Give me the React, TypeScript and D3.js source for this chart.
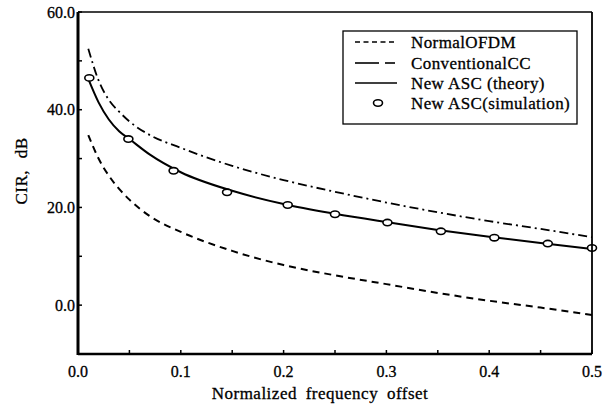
import React from "react";
import * as d3 from "d3";

// values
const offsets = [0.01, 0.02, 0.03, 0.04, 0.05, 0.07, 0.1, 0.15, 0.2, 0.25, 0.3, 0.35, 0.4, 0.45, 0.5];
const normalOfdm = [34.8, 30.0, 26.5, 23.8, 21.6, 18.2, 15.0, 11.1, 8.2, 6.1, 4.3, 2.5, 0.9, -0.5, -2.0];
const conventionalCC = [52.5, 46.0, 42.0, 39.6, 37.6, 34.8, 32.2, 28.5, 25.6, 23.2, 21.0, 19.0, 17.2, 15.6, 13.9];
const ascTheory = [46.3, 41.5, 38.0, 35.6, 34.0, 30.8, 27.2, 23.4, 20.7, 18.7, 17.0, 15.4, 14.0, 12.7, 11.5];

const simOffsets = [0.011, 0.049, 0.093, 0.145, 0.204, 0.25, 0.301, 0.353, 0.405, 0.457, 0.5];
const ascSimulation = [46.5, 34.0, 27.5, 23.1, 20.5, 18.6, 16.9, 15.1, 13.8, 12.6, 11.7];

const xTicks = [0, 0.05, 0.1, 0.15, 0.2, 0.25, 0.3, 0.35, 0.4, 0.45, 0.5];
const xLabels = [0, 0.1, 0.2, 0.3, 0.4, 0.5];
const yTicks = [-10, 0, 10, 20, 30, 40, 50, 60];
const yLabels = [0, 20, 40, 60];

const legendItems = ["NormalOFDM", "ConventionalCC", "New ASC (theory)", "New ASC(simulation)"];

const font = "Liberation Serif, serif";

const App = () => {
  const width = 613;
  const height = 410;
  const left = 78;
  const right = 592;
  const top = 12;
  const bottom = 354;

  const x = d3.scaleLinear().domain([0, 0.5]).range([left, right]);
  const y = d3.scaleLinear().domain([-10, 60]).range([bottom, top]);

  const line = d3
    .line<number>()
    .x((_, i) => x(offsets[i]))
    .y((d) => y(d))
    .curve(d3.curveMonotoneX);

  const lx1 = 355;
  const lx2 = 397;
  const rowY = [42, 63, 83, 103];

  return (
    <svg
      width={width}
      height={height}
      style={{ position: "absolute", left: 0, top: 0, background: "#fff", fontFamily: font }}
    >
      <rect width={width} height={height} fill="#fff" />

      {/* curves */}
      <path d={line(normalOfdm) ?? ""} fill="none" stroke="#000" strokeWidth={2} strokeDasharray="7 5" />
      <path d={line(conventionalCC) ?? ""} fill="none" stroke="#000" strokeWidth={1.8} strokeDasharray="9 4 2 4" />
      <path d={line(ascTheory) ?? ""} fill="none" stroke="#000" strokeWidth={2} />
      {simOffsets.map((o, i) => (
        <ellipse
          key={i}
          cx={x(o)}
          cy={y(ascSimulation[i])}
          rx={4.5}
          ry={3.2}
          fill="#fff"
          stroke="#000"
          strokeWidth={1.6}
        />
      ))}

      {/* frame */}
      <line x1={left} x2={right} y1={top} y2={top} stroke="#000" strokeWidth={1.5} />
      <line x1={right} x2={right} y1={top} y2={bottom} stroke="#000" strokeWidth={1.8} />
      <line x1={left} x2={right} y1={bottom} y2={bottom} stroke="#000" strokeWidth={2.5} />
      <line x1={left} x2={left} y1={top} y2={bottom + 1} stroke="#000" strokeWidth={3} />

      {/* ticks */}
      {xTicks.map((t) => (
        <line key={"xt" + t} x1={x(t)} x2={x(t)} y1={bottom} y2={bottom - 4} stroke="#000" strokeWidth={1.5} />
      ))}
      {yTicks.map((t) => (
        <line key={"yt" + t} x1={left} x2={left + 4} y1={y(t)} y2={y(t)} stroke="#000" strokeWidth={1.5} />
      ))}
      {xLabels.map((t) => (
        <text key={"xl" + t} x={x(t)} y={377} fontSize={16} textAnchor="middle" stroke="#000" strokeWidth={0.3}>
          {t.toFixed(1)}
        </text>
      ))}
      {yLabels.map((t) => (
        <text key={"yl" + t} x={left - 3} y={y(t) + 5.5} fontSize={16} textAnchor="end" stroke="#000" strokeWidth={0.3}>
          {t.toFixed(1)}
        </text>
      ))}

      {/* axis titles */}
      <text
        x={320}
        y={399}
        fontSize={17}
        textAnchor="middle"
        letterSpacing={0.5}
        wordSpacing={4}
        stroke="#000"
        strokeWidth={0.3}
      >
        Normalized frequency offset
      </text>
      <text
        transform="translate(27, 171) rotate(-90)"
        fontSize={17}
        textAnchor="middle"
        letterSpacing={0.5}
        wordSpacing={7}
        stroke="#000"
        strokeWidth={0.3}
      >
        CIR, dB
      </text>

      {/* legend */}
      <rect x={343} y={31} width={234} height={93} fill="#fff" stroke="#000" strokeWidth={1.3} />
      <line x1={lx1} x2={lx2} y1={rowY[0]} y2={rowY[0]} stroke="#000" strokeWidth={1.6} strokeDasharray="5 3.5" />
      <line x1={lx1} x2={lx1 + 24} y1={rowY[1]} y2={rowY[1]} stroke="#000" strokeWidth={1.6} />
      <line x1={lx1 + 30} x2={lx2 - 2} y1={rowY[1]} y2={rowY[1]} stroke="#000" strokeWidth={1.6} />
      <line x1={lx1} x2={lx2} y1={rowY[2]} y2={rowY[2]} stroke="#000" strokeWidth={1.4} />
      <ellipse cx={378} cy={rowY[3]} rx={4.5} ry={3.2} fill="#fff" stroke="#000" strokeWidth={1.6} />
      {legendItems.map((s, i) => (
        <text
          key={s}
          x={411}
          y={rowY[i] + 5.5}
          fontSize={17}
          letterSpacing={0.4}
          stroke="#000"
          strokeWidth={0.3}
        >
          {s}
        </text>
      ))}
    </svg>
  );
};

export default App;
